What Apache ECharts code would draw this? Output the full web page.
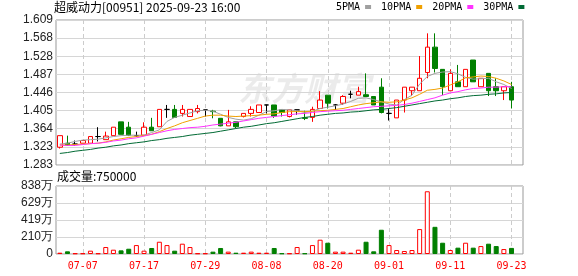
<!DOCTYPE html>
<html>
<head>
<meta charset="utf-8">
<title>超威动力 日K</title>
<script src="https://cdn.jsdelivr.net/npm/echarts@6/dist/echarts.min.js"></script>
<style>
    html, body { margin: 0; padding: 0; background: #fff; }
    #kline { width: 578px; height: 276px; }
</style>
</head>
<body>
<div id="kline"></div>
<script>
/* 交易日 */
var dates = ['07-02', '07-03', '07-04', '07-07', '07-08', '07-09', '07-10', '07-11', '07-14', '07-15',
    '07-16', '07-17', '07-18', '07-21', '07-22', '07-23', '07-24', '07-25', '07-28', '07-29',
    '07-30', '07-31', '08-01', '08-04', '08-05', '08-06', '08-07', '08-08', '08-11', '08-12',
    '08-13', '08-14', '08-15', '08-18', '08-19', '08-20', '08-21', '08-22', '08-25', '08-26',
    '08-27', '08-28', '08-29', '09-01', '09-02', '09-03', '09-04', '09-05', '09-08', '09-09',
    '09-10', '09-11', '09-12', '09-15', '09-16', '09-17', '09-18', '09-19', '09-22', '09-23'];

/* 开盘 收盘 最低 最高 */
var opens = [1.323, 1.332, 1.330, 1.332, 1.332, 1.347, 1.340, 1.349, 1.380, 1.368,
    1.349, 1.350, 1.368, 1.369, 1.408, 1.408, 1.399, 1.392, 1.403, 1.407,
    1.404, 1.388, 1.371, 1.380, 1.392, 1.399, 1.401, 1.418, 1.418, 1.407,
    1.392, 1.407, 1.389, 1.390, 1.410, 1.440, 1.418, 1.422, 1.442, 1.440,
    1.441, 1.437, 1.458, 1.399, 1.389, 1.429, 1.450, 1.450, 1.491, 1.548,
    1.498, 1.450, 1.470, 1.459, 1.519, 1.459, 1.489, 1.459, 1.450, 1.459];
var closes = [1.349, 1.328, 1.330, 1.338, 1.347, 1.347, 1.348, 1.368, 1.352, 1.350,
    1.349, 1.368, 1.360, 1.408, 1.408, 1.390, 1.408, 1.408, 1.410, 1.407,
    1.403, 1.371, 1.380, 1.369, 1.399, 1.408, 1.418, 1.418, 1.393, 1.401,
    1.407, 1.407, 1.388, 1.408, 1.429, 1.422, 1.418, 1.437, 1.442, 1.448,
    1.437, 1.418, 1.401, 1.399, 1.429, 1.458, 1.458, 1.478, 1.548, 1.500,
    1.459, 1.489, 1.459, 1.498, 1.470, 1.478, 1.450, 1.450, 1.459, 1.429];
var lows = [1.320, 1.327, 1.326, 1.332, 1.332, 1.336, 1.340, 1.349, 1.352, 1.348,
    1.346, 1.350, 1.360, 1.369, 1.389, 1.389, 1.392, 1.392, 1.399, 1.392,
    1.388, 1.370, 1.371, 1.366, 1.390, 1.392, 1.401, 1.399, 1.389, 1.392,
    1.390, 1.396, 1.384, 1.380, 1.410, 1.410, 1.407, 1.418, 1.433, 1.440,
    1.437, 1.418, 1.399, 1.383, 1.389, 1.401, 1.438, 1.450, 1.478, 1.491,
    1.440, 1.450, 1.459, 1.459, 1.470, 1.459, 1.438, 1.438, 1.429, 1.410];
var highs = [1.349, 1.349, 1.338, 1.338, 1.347, 1.368, 1.358, 1.368, 1.380, 1.380,
    1.358, 1.379, 1.389, 1.408, 1.418, 1.418, 1.418, 1.408, 1.418, 1.407,
    1.407, 1.388, 1.407, 1.380, 1.399, 1.415, 1.418, 1.418, 1.418, 1.407,
    1.407, 1.407, 1.405, 1.414, 1.449, 1.440, 1.420, 1.440, 1.450, 1.459,
    1.489, 1.437, 1.478, 1.410, 1.429, 1.458, 1.458, 1.528, 1.579, 1.579,
    1.498, 1.498, 1.508, 1.498, 1.519, 1.478, 1.489, 1.478, 1.459, 1.470];

/* 均线 */
var ma5 = [1.330, 1.332, 1.336, 1.339, 1.340, 1.341, 1.344, 1.347, 1.349, 1.350,
    1.350, 1.350, 1.356, 1.362, 1.381, 1.390, 1.395, 1.400, 1.405, 1.406,
    1.404, 1.397, 1.390, 1.386, 1.384, 1.387, 1.395, 1.403, 1.405, 1.408,
    1.407, 1.405, 1.401, 1.404, 1.410, 1.413, 1.416, 1.420, 1.426, 1.433,
    1.434, 1.430, 1.425, 1.420, 1.418, 1.430, 1.440, 1.465, 1.482, 1.489,
    1.492, 1.493, 1.488, 1.480, 1.476, 1.477, 1.478, 1.470, 1.464, 1.455];
var ma10 = [1.328, 1.328, 1.329, 1.330, 1.331, 1.332, 1.335, 1.339, 1.342, 1.345,
    1.347, 1.349, 1.352, 1.358, 1.365, 1.371, 1.378, 1.383, 1.388, 1.393,
    1.395, 1.395, 1.393, 1.392, 1.393, 1.394, 1.395, 1.397, 1.398, 1.401,
    1.403, 1.403, 1.403, 1.404, 1.405, 1.406, 1.408, 1.410, 1.414, 1.418,
    1.421, 1.423, 1.425, 1.424, 1.425, 1.429, 1.434, 1.442, 1.451, 1.453,
    1.456, 1.463, 1.470, 1.479, 1.481, 1.483, 1.482, 1.478, 1.472, 1.464];
var ma20 = [1.328, 1.327, 1.327, 1.329, 1.331, 1.332, 1.334, 1.337, 1.339, 1.342,
    1.344, 1.348, 1.352, 1.356, 1.360, 1.363, 1.365, 1.367, 1.368, 1.370,
    1.373, 1.375, 1.377, 1.379, 1.382, 1.385, 1.388, 1.390, 1.392, 1.394,
    1.396, 1.398, 1.399, 1.401, 1.403, 1.404, 1.405, 1.406, 1.408, 1.410,
    1.412, 1.414, 1.415, 1.416, 1.417, 1.419, 1.422, 1.426, 1.430, 1.434,
    1.440, 1.445, 1.448, 1.452, 1.455, 1.456, 1.458, 1.458, 1.459, 1.459];
var ma30 = [1.309, 1.311, 1.314, 1.316, 1.318, 1.321, 1.323, 1.326, 1.328, 1.331,
    1.333, 1.335, 1.338, 1.340, 1.343, 1.345, 1.347, 1.350, 1.352, 1.354,
    1.356, 1.359, 1.362, 1.365, 1.368, 1.370, 1.373, 1.376, 1.378, 1.381,
    1.384, 1.387, 1.390, 1.392, 1.395, 1.397, 1.399, 1.400, 1.402, 1.403,
    1.405, 1.407, 1.408, 1.410, 1.412, 1.415, 1.418, 1.421, 1.424, 1.427,
    1.429, 1.432, 1.434, 1.437, 1.439, 1.440, 1.442, 1.443, 1.445, 1.446];

/* 成交量(股) */
var volumes = [160000, 330000, 80000, 80000, 410000, 80000, 860000, 530000, 450000, 650000,
    1100000, 410000, 740000, 1510000, 1100000, 410000, 1270000, 860000, 80000, 80000,
    290000, 740000, 290000, 160000, 160000, 290000, 160000, 160000, 740000, 80000,
    80000, 860000, 80000, 1100000, 1760000, 1390000, 290000, 290000, 160000, 530000,
    1510000, 330000, 2990000, 1100000, 490000, 370000, 490000, 3070000, 7730000, 3350000,
    1390000, 490000, 780000, 1390000, 780000, 980000, 1270000, 980000, 610000, 750000];

/* 坐标轴刻度文字 */
var priceTicks = ['1.283', '1.323', '1.364', '1.405', '1.446', '1.487', '1.528', '1.568', '1.609'];
var volTicks = ['0', '210万', '419万', '629万', '838万'];

var priceMin = 1.283, priceMax = 1.609, priceStep = 0.04075;
var volMax = 8380000, volStep = 2095000;

var UP = '#ff0000', DOWN = '#008000';

initKline();

function initKline() {
    var myChart = echarts.init(document.getElementById('kline'), null, {renderer: 'canvas'});

    // 右侧留一个空位
    var cats = dates.concat(['']);

    var kData = [];
    var volData = [];
    for (var i = 0; i < dates.length; i++) {
        kData.push([opens[i], closes[i], lows[i], highs[i]]);
        var up = closes[i] >= opens[i];
        volData.push({
            value: volumes[i],
            itemStyle: up ? {color: '#fff', borderColor: UP, borderWidth: 1}
                          : {color: DOWN, borderColor: DOWN, borderWidth: 1}
        });
    }

    var showIdx = function (index) {
        return index % 8 === 3;
    };
    var dashed = {show: true, interval: showIdx, alignWithLabel: true,
        lineStyle: {color: '#cccccc', type: [4, 3], width: 1}};
    var monoFont = 'DejaVu Sans Mono';

    var option = {
        animation: false,
        title: [{
            text: '超威动力[00951] 2025-09-23 16:00',
            left: 54, top: 1, padding: 0,
            textStyle: {fontSize: 12, fontWeight: 'normal', color: '#000', fontFamily: 'Noto Sans CJK SC'}
        }, {
            text: '成交量:' + volumes[volumes.length - 1],
            left: 57, top: 170, padding: 0,
            textStyle: {fontSize: 12, fontWeight: 'normal', color: '#000', fontFamily: 'Noto Sans CJK SC'}
        }],
        legend: {
            data: ['5PMA', '10PMA', '20PMA', '30PMA'],
            left: 336, top: 2, padding: 0,
            align: 'right',
            icon: 'rect', itemWidth: 6, itemHeight: 4, itemGap: 10,
            selectedMode: false,
            textStyle: {fontFamily: monoFont, fontSize: 10, color: '#000'}
        },
        graphic: [{
            type: 'text', left: 238, top: 72, z: -10, silent: true,
            style: {text: '东方财富', font: 'italic bold 33px "Noto Sans CJK SC"', fill: 'rgba(0,0,0,0.08)'}
        }],
        grid: [
            {left: 56, top: 20, width: 467, height: 145, show: true, borderColor: '#999', borderWidth: 1},
            {left: 56, top: 186, width: 467, height: 68, show: true, borderColor: '#999', borderWidth: 1}
        ],
        xAxis: [{
            type: 'category', gridIndex: 0, data: cats, boundaryGap: true,
            axisLine: {show: false}, axisTick: {show: false}, axisLabel: {show: false},
            splitLine: dashed
        }, {
            type: 'category', gridIndex: 1, data: cats, boundaryGap: true,
            axisLine: {show: false}, axisTick: {show: false},
            axisLabel: {interval: showIdx, color: UP, fontFamily: monoFont, fontSize: 10, margin: 7},
            splitLine: dashed
        }],
        yAxis: [{
            type: 'value', gridIndex: 0, min: priceMin, max: priceMax, interval: priceStep,
            axisLine: {show: false}, axisTick: {show: false},
            axisLabel: {
                margin: 3, color: '#222', fontSize: 12, fontFamily: 'Liberation Sans',
                formatter: function (v) {
                    return priceTicks[Math.round((v - priceMin) / priceStep)];
                }
            },
            splitLine: {lineStyle: {color: '#d6d6d6', width: 1}}
        }, {
            type: 'value', gridIndex: 1, min: 0, max: volMax, interval: volStep,
            axisLine: {show: false}, axisTick: {show: false},
            axisLabel: {
                margin: 3, color: '#222', fontSize: 12, fontFamily: 'Liberation Sans',
                formatter: function (v) {
                    return volTicks[Math.round(v / volStep)];
                }
            },
            splitLine: {lineStyle: {color: '#d6d6d6', width: 1}}
        }],
        series: [{
            name: 'K', type: 'candlestick', xAxisIndex: 0, yAxisIndex: 0,
            data: kData, barWidth: 5,
            itemStyle: {
                color: '#fff', color0: DOWN,
                borderColor: UP, borderColor0: DOWN, borderColorDoji: '#000',
                borderWidth: 1
            }
        }, {
            name: '5PMA', type: 'line', data: ma5, symbol: 'none', z: 3,
            itemStyle: {color: '#a0a0a0'}, lineStyle: {color: '#a0a0a0', width: 1}
        }, {
            name: '10PMA', type: 'line', data: ma10, symbol: 'none', z: 3,
            itemStyle: {color: '#f0a000'}, lineStyle: {color: '#f0a000', width: 1}
        }, {
            name: '20PMA', type: 'line', data: ma20, symbol: 'none', z: 3,
            itemStyle: {color: '#ff33ff'}, lineStyle: {color: '#ff33ff', width: 1}
        }, {
            name: '30PMA', type: 'line', data: ma30, symbol: 'none', z: 3,
            itemStyle: {color: '#006a34'}, lineStyle: {color: '#006a34', width: 1}
        }, {
            name: '成交量', type: 'bar', xAxisIndex: 1, yAxisIndex: 1,
            data: volData, barWidth: 5
        }]
    };
    myChart.setOption(option);
    window.addEventListener("resize", function () {
        myChart.resize();
    });
}
</script>
</body>
</html>
